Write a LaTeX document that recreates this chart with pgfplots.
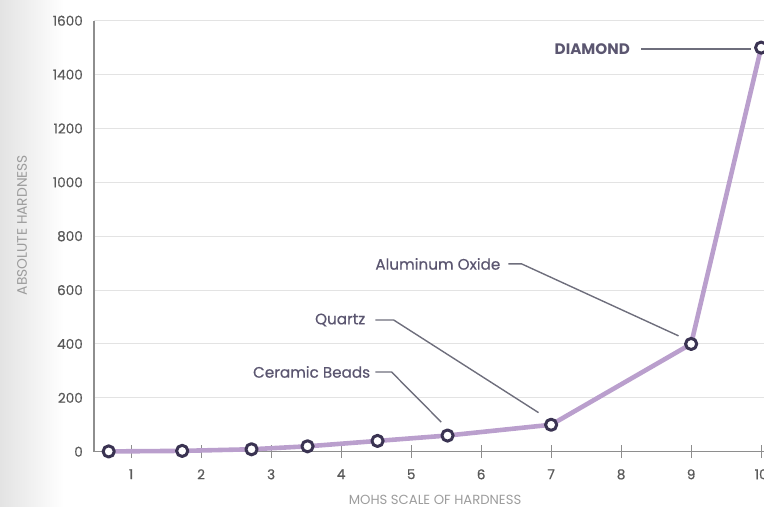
\documentclass[border=0pt]{standalone}
\usepackage{fontspec}
\setmainfont{Poppins}
\newfontfamily\medfont{Poppins}[FakeBold=0.6]
\usepackage{pgfplots}
\pgfplotsset{compat=1.18}

\definecolor{lineP}{HTML}{BA9FCD}
\definecolor{markP}{HTML}{3A3352}
\definecolor{gridG}{HTML}{E3E3E3}
\definecolor{axisG}{HTML}{8E8E8E}
\definecolor{tickT}{HTML}{5A5A5A}
\definecolor{noteT}{HTML}{5B5670}
\definecolor{leadG}{HTML}{6E6E7C}
\definecolor{labT}{HTML}{9C9C9C}

\begin{document}
\begin{tikzpicture}
% grey fade on the left edge of the photo
\shade[left color=black!11, right color=white] (-47pt,-27.65pt) rectangle (-15pt,225.85pt);

\begin{axis}[
  scale only axis,
  width=335pt, height=215.5pt,
  xmin=0.47, xmax=10.041,
  ymin=0, ymax=1600,
  axis x line=bottom, axis y line=left,
  axis line style={-, draw=axisG, line width=0.75pt},
  xtick={1,2,3,4,5,6,7,8,9,10},
  ytick={0,200,400,600,800,1000,1200,1400,1600},
  xtick align=center,
  major tick length=6.5pt,
  xtick style={draw=axisG, line width=0.6pt},
  ytick style={draw=none},
  ymajorgrids,
  grid style={gridG, line width=0.55pt},
  tick label style={font=\medfont\fontsize{6.8}{7}\selectfont, text=tickT},
  /pgf/number format/assume math mode=true,
  /pgf/number format/1000 sep={},
  yticklabel style={xshift=1.2pt},
  xticklabel style={yshift=-2pt},
  xlabel={MOHS SCALE OF HARDNESS},
  ylabel={ABSOLUTE HARDNESS},
  xlabel style={font=\fontsize{6.6}{7}\selectfont, text=labT, at={(axis description cs:0.509,-0.111)}, anchor=center},
  ylabel style={font=\fontsize{6.9}{7}\selectfont, text=labT, at={(axis description cs:-0.1075,0.526)}, anchor=center, rotate=0},
  clip=false,
]
\addplot[lineP, line width=2.3pt, line join=round,
  mark=*, mark size=2.8pt,
  mark options={draw=markP, fill=white, line width=1.5pt}]
  coordinates {
  (0.68,1) (1.73,3) (2.72,9) (3.52,20) (4.52,40) (5.52,60)
  (7,100) (9,400) (10,1500)
  };

% annotations
\begin{scope}[every node/.style={font=\medfont\fontsize{7.6}{8}\selectfont, text=noteT, inner sep=0pt}]
\node[anchor=east, font=\fontsize{7.6}{8}\selectfont\bfseries] at (axis cs:8.13,1495) {DIAMOND};
\node[anchor=east] at (axis cs:6.28,697) {Aluminum Oxide};
\node[anchor=east] at (axis cs:4.35,489) {Quartz};
\node[anchor=east] at (axis cs:4.42,296) {Ceramic Beads};
\end{scope}
\begin{scope}[leadG, line width=0.7pt]
\draw (axis cs:8.29,1495) -- (axis cs:9.85,1495);
\draw (axis cs:6.39,697) -- (axis cs:6.58,697) -- (axis cs:8.82,430);
\draw (axis cs:4.49,489) -- (axis cs:4.75,489) -- (axis cs:6.82,145);
\draw (axis cs:4.49,296) -- (axis cs:4.72,296) -- (axis cs:5.43,110);
\end{scope}
\end{axis}
\pgfresetboundingbox
\path (-47pt,-27.65pt) rectangle (335pt,225.85pt);
\end{tikzpicture}
\end{document}
